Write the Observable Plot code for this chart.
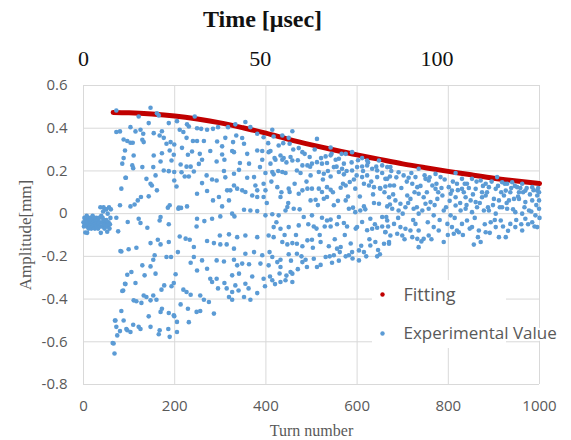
<!DOCTYPE html>
<html><head><meta charset="utf-8">
<script src="https://cdn.jsdelivr.net/npm/d3@7"></script>
<script src="https://cdn.jsdelivr.net/npm/@observablehq/plot@0.6"></script>
<style>body{margin:0;background:#fff}</style>
</head><body><div id="chart"></div>
<script>
const xTicks = [0, 200, 400, 600, 800, 1000];
const yTicks = [-0.8, -0.6, -0.4, -0.2, 0, 0.2, 0.4, 0.6];
const timeTicks = [0, 50, 100];
const usPerTurn = 0.129;

const fitTurn = [65, 100, 150, 200, 250, 300, 350, 400, 450, 500, 550, 600, 650, 700, 750, 800, 850, 900, 950, 1000];
const fitAmp  = [0.474, 0.472, 0.466, 0.457, 0.443, 0.425, 0.402, 0.377, 0.348, 0.322, 0.298, 0.275, 0.254, 0.233, 0.215, 0.198, 0.182, 0.166, 0.153, 0.141];

const preKick = [[0,-0.04],[1,-0.06],[2,-0.02],[3,-0.05],[4,-0.088],[5,-0.03],[6,-0.05],[7,-0.01],[8,-0.06],[9,-0.04],[10,-0.02],[11,-0.07],[12,-0.05],[13,-0.03],[14,-0.06],[15,-0.02],[16,-0.04],[17,-0.07],[18,-0.03],[19,-0.05],[20,-0.01],[21,-0.06],[22,-0.04],[23,-0.02],[24,-0.05],[25,-0.07],[26,-0.03],[27,-0.05],[28,-0.02],[29,-0.06],[30,-0.04],[31,-0.03],[32,-0.07],[33,-0.05],[34,-0.02],[35,-0.04],[36,-0.06],[37,0.03],[38,-0.09],[39,-0.01],[40,-0.04],[41,-0.06],[42,-0.02],[43,0.01],[44,0.03],[45,-0.03],[46,-0.07],[47,0.02],[48,-0.04],[49,-0.06],[50,0.02],[51,-0.05],[52,-0.085],[53,0.0],[54,-0.06],[55,-0.04],[56,0.03],[57,-0.07],[58,-0.05],[59,-0.02],[60,0.02],[8,-0.09],[44,-0.05],[50,-0.03]];

const experimental = [
[66,-0.608],[68,-0.655],[70,-0.5],[72,-0.53],
[72,0.483],[72,0.382],[80,0.385],[88,0.347],[96,0.34],[103,0.332],[108,0.332],[91,0.296],[88,0.26],[85,0.234],[92,0.168],[83,0.117],[80,0.039],[72,-0.019],[76,-0.083],[81,-0.175],[87,-0.36],[92,-0.33],[83,-0.456],[69,-0.50],[88,-0.50],[80,-0.55],[74,-0.57],[64,-0.606],[96,-0.546],[103,-0.554],
[103,0.405],[114,0.385],[125,0.393],[131,0.374],[129,0.346],[132,0.335],[143,0.424],[147,0.496],[121,0.455],[110,0.272],[107,0.226],[109,0.213],[93,0.168],[154,0.272],[129,0.218],[138,0.163],[147,0.14],[143,0.081],[126,0.078],[119,0.062],[112,0.043],[103,0.034],[97,-0.039],[121,-0.024],[125,-0.044],[140,-0.066],[83,-0.177],[99,-0.167],[116,-0.16],[129,-0.242],[134,-0.289],[96,-0.286],[91,-0.328],[105,-0.273],[85,-0.362],[114,-0.325],[110,-0.406],[116,-0.41],[127,-0.418],[132,-0.383],[138,-0.39],[147,-0.406],[109,-0.52],[94,-0.54],[121,-0.53],[125,-0.54],[147,-0.53],[167,-0.546],[165,-0.565],
[161,0.47],[165,0.46],[187,0.424],[205,0.433],[154,0.377],[172,0.386],[167,0.366],[176,0.355],[182,0.327],[191,0.335],[189,0.296],[199,0.324],[172,0.283],[169,0.244],[176,0.202],[187,0.199],[193,0.249],[198,0.276],[153,0.218],[158,0.179],[150,0.132],[161,0.109],[199,0.195],[199,0.155],[204,0.127],[185,0.028],[189,0.039],[169,-0.016],[167,-0.032],[187,-0.05],[208,0.023],[214,0.027],[147,-0.138],[169,-0.144],[163,-0.122],[187,-0.133],[182,-0.203],[192,-0.203],[156,-0.195],[153,-0.216],[207,-0.18],[147,-0.247],[158,-0.281],[171,-0.356],[177,-0.336],[193,-0.34],[202,-0.284],[198,-0.325],[153,-0.383],[160,-0.403],[172,-0.445],[169,-0.46],[187,-0.465],[198,-0.476],[205,-0.507],[143,-0.481],[186,-0.54],[189,-0.577],[205,-0.554],
[227,0.418],[244,0.455],[211,0.393],[219,0.382],[226,0.355],[231,0.408],[249,0.40],[258,0.397],[271,0.393],[284,0.397],[295,0.405],[317,0.405],[311,0.355],[293,0.338],[240,0.34],[249,0.34],[264,0.34],[304,0.315],[216,0.308],[229,0.276],[238,0.291],[255,0.28],[260,0.252],[278,0.293],[304,0.277],[309,0.252],[292,0.244],[326,0.293],[328,0.335],[213,0.23],[226,0.22],[235,0.22],[253,0.233],[215,0.194],[222,0.174],[231,0.174],[242,0.197],[270,0.179],[282,0.16],[292,0.155],[308,0.2],[311,0.17],[260,0.143],[249,0.093],[271,0.106],[284,0.062],[297,0.078],[315,0.109],[322,0.109],[330,0.132],[319,0.062],[304,0.034],[227,0.034],[209,0.028],[249,-0.024],[265,-0.035],[282,-0.024],[300,-0.013],[331,-0.013],[248,-0.06],[211,-0.107],[224,-0.117],[233,-0.122],[242,-0.156],[271,-0.128],[286,-0.138],[300,-0.144],[314,-0.144],[299,-0.102],[319,-0.097],[242,-0.203],[260,-0.219],[235,-0.23],[249,-0.266],[271,-0.258],[292,-0.219],[308,-0.224],[330,-0.216],[278,-0.305],[282,-0.32],[292,-0.305],[295,-0.35],[309,-0.325],[314,-0.35],[256,-0.383],[264,-0.403],[275,-0.414],[319,-0.39],[326,-0.403],[226,-0.367],[235,-0.38],[219,-0.356],[213,-0.425],[229,-0.445],[248,-0.46],[256,-0.456],[286,-0.468],[231,-0.508],[199,-0.48],
[333,0.418],[355,0.429],[366,0.405],[381,0.374],[395,0.358],[414,0.393],[417,0.361],[458,0.386],[436,0.366],[450,0.355],[512,0.35],[542,0.31],[575,0.28],[589,0.288],[335,0.366],[348,0.354],[352,0.327],[330,0.288],[359,0.28],[381,0.296],[392,0.293],[406,0.288],[410,0.293],[392,0.252],[428,0.319],[432,0.272],[452,0.327],[472,0.307],[480,0.288],[343,0.237],[363,0.234],[387,0.218],[410,0.234],[421,0.252],[436,0.252],[439,0.26],[454,0.265],[458,0.249],[480,0.226],[491,0.226],[501,0.234],[512,0.241],[523,0.234],[534,0.237],[496,0.265],[531,0.268],[542,0.273],[553,0.252],[560,0.257],[571,0.234],[567,0.21],[549,0.218],[589,0.202],[600,0.218],[611,0.221],[622,0.226],[633,0.21],[644,0.202],[611,0.26],[622,0.249],[655,0.226],[666,0.218],[648,0.249],
[330,0.187],[341,0.205],[359,0.168],[374,0.171],[399,0.19],[414,0.195],[417,0.184],[436,0.195],[443,0.19],[468,0.202],[476,0.19],[498,0.179],[516,0.195],[527,0.187],[542,0.174],[560,0.195],[571,0.184],[599,0.179],[611,0.171],[622,0.179],[644,0.171],[662,0.163],[672,0.174],
[337,0.117],[348,0.109],[355,0.101],[377,0.132],[395,0.14],[381,0.109],[399,0.109],[425,0.124],[450,0.117],[452,0.101],[472,0.093],[480,0.109],[491,0.117],[501,0.117],[516,0.117],[523,0.101],[534,0.124],[542,0.112],[564,0.121],[575,0.132],[584,0.148],[596,0.117],[615,0.14],[626,0.132],[637,0.124],[651,0.117],[662,0.127],[672,0.132],
[370,0.085],[381,0.078],[395,0.078],[432,0.078],[443,0.015],[447,0.031],[461,0.023],[498,0.062],[509,0.065],[527,0.07],[534,0.078],[549,0.039],[575,0.062],[582,0.023],[591,0.028],[607,0.015],[615,0.034],[637,0.05],[648,0.046],[666,0.034],[672,0.043],
[352,0.018],[366,0.015],[381,0.012],[326,0],[399,-0.008],[414,-0.003],[428,-0.008],[483,-0.016],[501,-0.008],[523,-0.019],[534,-0.032],[542,-0.028],[560,-0.016],[571,-0.044],[596,0.007],[611,-0.039],[629,-0.024],[655,-0.016],[664,-0.016],
[417,-0.063],[432,-0.071],[450,-0.063],[472,-0.055],[505,-0.06],[511,-0.07],[542,-0.06],[556,-0.05],[578,-0.06],[600,-0.063],[622,-0.078],[633,-0.071],[644,-0.066],[655,-0.06],[662,-0.086],
[337,-0.11],[355,-0.102],[381,-0.11],[406,-0.102],[417,-0.11],[436,-0.133],[447,-0.144],[458,-0.138],[468,-0.141],[480,-0.153],[491,-0.125],[501,-0.122],[520,-0.133],[538,-0.153],[556,-0.164],[564,-0.156],[589,-0.18],[604,-0.172],[615,-0.18],[629,-0.149],[640,-0.133],[659,-0.141],[670,-0.133],
[330,-0.164],[355,-0.188],[374,-0.18],[392,-0.195],[414,-0.203],[432,-0.216],[450,-0.19],[468,-0.188],[480,-0.227],[487,-0.216],[505,-0.211],[512,-0.25],[531,-0.203],[549,-0.195],[575,-0.2],[582,-0.195],[604,-0.219],[644,-0.2],
[337,-0.242],[348,-0.234],[363,-0.237],[388,-0.234],[406,-0.242],[425,-0.227],[432,-0.25],[454,-0.273],[458,-0.281],[326,-0.289],[341,-0.281],[370,-0.294],[395,-0.305],[409,-0.294],[414,-0.312],[432,-0.32],[443,-0.312],[458,-0.32],[355,-0.328],[333,-0.336],[381,-0.372],[366,-0.403],[352,-0.39],[326,-0.367],
[340,-0.36],[362,-0.35],[398,-0.34],[420,-0.33],[445,-0.29],[470,-0.26],[490,-0.25],[520,-0.24],[545,-0.23],[560,-0.22],[590,-0.21],[620,-0.2],[650,-0.19],
[402,0.05],[405,0.33],[408,-0.18],[412,0.15],[419,0.26],[423,-0.04],[427,0.2],[430,-0.28],[434,0.1],[438,0.33],[441,-0.1],[445,0.24],[449,0.05],[455,-0.22],[460,0.3],[463,0.14],[466,-0.1],[470,0.25],[474,0.02],[478,-0.2],[485,0.28],[489,0.15],[493,-0.05],[497,0.22],[503,-0.16],[507,0.3],[514,0.04],[518,-0.1],[521,0.26],[525,0.16],[529,-0.06],[536,0.2],[540,-0.2],[544,0.28],[547,0.1],[551,-0.12],[555,0.22],[558,0.06],[562,-0.18],[566,0.28],[569,0.14],[573,-0.1],[577,0.2],[580,0.08],[586,-0.14],[588,0.24],[593,0.16],[597,-0.07],[602,0.25],[606,0.08],[609,-0.15],[613,0.2],[618,0.02],[624,0.24],[627,-0.12],[631,0.15],[635,0.09],[639,-0.05],[642,0.22],[646,-0.17],[650,0.12],
[673,0.218],[691,0.194],[702,0.179],[713,0.168],[728,0.171],[735,0.21],[750,0.163],[757,0.155],[772,0.186],[783,0.171],[816,0.19],[830,0.163],[841,0.14],[852,0.163],[871,0.155],[882,0.14],[907,0.171],[918,0.147],[929,0.14],[940,0.147],[951,0.124],[962,0.14],[984,0.124],[995,0.108],[666,0.163],[681,0.132],[721,0.14],[732,0.124],[765,0.132],[772,0.116],[801,0.124],[808,0.108],[819,0.14],[830,0.116],[860,0.116],[874,0.1],[889,0.124],[904,0.116],[926,0.108],[936,0.1],[955,0.1],[969,0.108],[999,0.1],
[670,0.077],[684,0.062],[695,0.046],[710,0.085],[717,0.069],[735,0.093],[746,0.077],[750,0.046],[761,0.054],[776,0.069],[787,0.085],[805,0.093],[816,0.077],[834,0.1],[838,0.077],[849,0.062],[860,0.054],[874,0.077],[882,0.085],[900,0.069],[911,0.062],[922,0.085],[933,0.062],[944,0.069],[955,0.069],[969,0.054],[984,0.062],[995,0.085],[999,0.062],
[677,0.023],[691,0.015],[706,0.03],[724,0.023],[735,0],[743,0.015],[757,0.023],[768,-0.008],[790,0.015],[805,-0.008],[816,0.038],[827,0.015],[838,0.023],[852,0.007],[863,0.03],[878,0.015],[889,0.015],[904,0],[918,0.03],[929,0.023],[947,0.007],[962,0],[977,0.015],[991,-0.008],[999,0.023],
[666,-0.032],[681,-0.048],[695,-0.063],[706,-0.071],[717,-0.079],[688,-0.094],[699,-0.102],[728,-0.048],[735,-0.079],[721,-0.11],[732,-0.118],[735,-0.157],[746,-0.118],[757,-0.102],[768,-0.063],[779,-0.079],[790,-0.133],[798,-0.048],[808,-0.063],[819,-0.079],[830,-0.048],[812,-0.094],[823,-0.087],[841,-0.032],[852,-0.063],[856,-0.145],[871,-0.133],[867,-0.079],[882,-0.087],[893,-0.04],[904,-0.063],[911,-0.11],[926,-0.11],[915,-0.032],[936,-0.048],[947,-0.063],[962,-0.079],[969,-0.024],[984,-0.04],[995,-0.063],[662,-0.087],[673,-0.102],[670,-0.141],
[655,0.19],[660,0.1],[668,-0.06],[675,0.2],[679,0.09],[686,0.17],[690,-0.02],[697,0.12],[700,0.0],[704,-0.12],[709,0.15],[712,0.05],[719,0.19],[723,-0.03],[726,0.1],[731,0.03],[739,0.13],[741,-0.13],[748,0.18],[753,0.1],[755,-0.04],[759,0.17],[763,-0.12],[770,0.04],[774,0.14],[778,0.1],[781,-0.03],[785,0.12],[792,0.16],[795,0.03],[799,-0.1],[803,0.06],[810,0.15],[814,-0.02],[821,0.11],[826,0.05],[832,-0.1],[836,0.14],[840,0.04],[845,0.12],[847,-0.07],[854,0.09],[858,-0.02],[862,0.15],[865,-0.11],[869,0.05],[876,0.13],[880,-0.05],[885,0.1],[887,0.03],[891,-0.09],[895,0.15],[898,0.04],[902,-0.03],[909,0.13],[913,0.03],[916,0.1],[920,-0.06],[924,0.14],[928,0.05],[931,-0.08],[938,0.12],[942,0.02],[946,0.13],[949,-0.03],[953,0.08],[958,0.12],[960,-0.05],[964,0.1],[967,0.03],[972,0.12],[975,-0.05],[979,0.09],[982,0.01],[987,0.11],[989,-0.06],[993,0.04],[997,0.12],[1000,-0.02]
];

const allExp = preKick.concat(experimental);
const gray = "#595959";
const serif = "'Liberation Serif', 'Times New Roman', serif";
const sans = "'Open Sans', sans-serif";

function legendBg(index, scales, values, dims) {
  const g = d3.create("svg:g");
  g.append("rect").attr("x", 372).attr("y", 280).attr("width", 134).attr("height", 68).attr("fill", "white");
  return g.node();
}

const chart = Plot.plot({
  width: 571, height: 440,
  marginTop: 85, marginBottom: 56, marginLeft: 83, marginRight: 32,
  style: {background: "white", fontFamily: sans, fontSize: "15px", color: gray},
  x: {domain: [0, 1000]},
  y: {domain: [-0.8, 0.6]},
  marks: [
    Plot.gridX(xTicks, {stroke: "#d9d9d9", strokeOpacity: 1}),
    Plot.gridY(yTicks, {stroke: "#d9d9d9", strokeOpacity: 1}),
    legendBg,
    Plot.line(fitTurn, {x: fitTurn, y: fitAmp, stroke: "#c00000", strokeWidth: 5, curve: "natural", strokeLinecap: "round"}),
    Plot.dot(allExp, {x: d => d[0], y: d => d[1], r: 2.3, fill: "#5b9bd5"}),
    Plot.axisX(xTicks, {tickSize: 0, tickPadding: 16, label: null, fontSize: 15, color: gray, tickFormat: d => String(d)}),
    Plot.axisY(yTicks, {tickSize: 0, tickPadding: 16, label: null, fontSize: 15, color: gray,
      tickFormat: d => d === 0 ? "0" : d.toFixed(1)}),
    Plot.text(["Turn number"], {text: d => d, frameAnchor: "bottom", lineAnchor: "middle", dy: 46, fontFamily: serif, fontSize: 16, fill: gray}),
    Plot.text(["Amplitude[mm]"], {text: d => d, frameAnchor: "left", textAnchor: "middle", lineAnchor: "middle", dx: -58, rotate: -90, fontFamily: serif, fontSize: 17, fill: gray}),
    Plot.text(timeTicks, {x: t => t / usPerTurn, text: d => String(d), frameAnchor: "top", lineAnchor: "middle", dy: -27, fontFamily: serif, fontSize: 22, fill: "#111"}),
    Plot.text(["Time [μsec]"], {text: d => d, frameAnchor: "top-left", textAnchor: "middle", lineAnchor: "middle", dx: 179, dy: -66, fontFamily: serif, fontWeight: "bold", fontSize: 24, fill: "#111"}),
    Plot.dot([0], {frameAnchor: "top-left", dx: 299, dy: 209, r: 2.2, fill: "#c00000"}),
    Plot.dot([0], {frameAnchor: "top-left", dx: 299, dy: 248, r: 2.2, fill: "#5b9bd5"}),
    Plot.text(["Fitting"], {text: d => d, frameAnchor: "top-left", textAnchor: "start", lineAnchor: "middle", dx: 320, dy: 210, fontSize: 18, fill: gray}),
    Plot.text(["Experimental Value"], {text: d => d, frameAnchor: "top-left", textAnchor: "start", lineAnchor: "middle", dx: 320, dy: 248, fontSize: 17, fill: gray, stroke: "white", strokeWidth: 4})
  ]
});
document.getElementById("chart").append(chart);
</script>
</body></html>
